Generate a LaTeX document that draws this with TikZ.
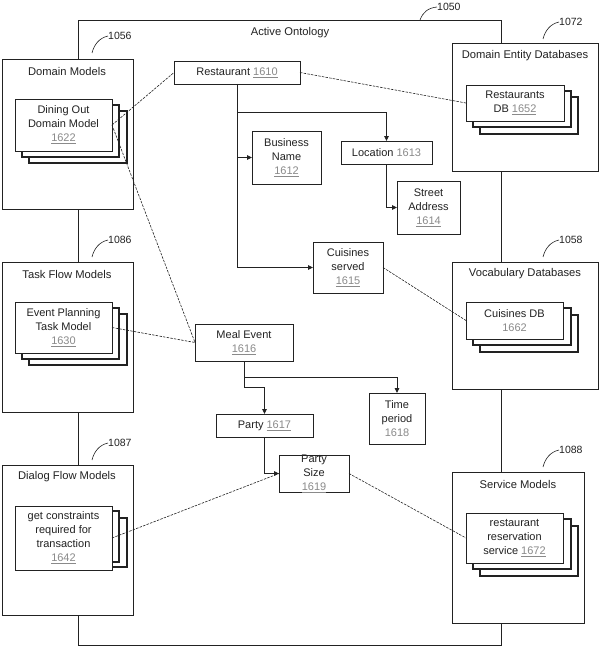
\documentclass[tikz,border=0pt]{standalone}
\usepackage{fontspec}
\setmainfont{Liberation Sans}
\usetikzlibrary{arrows.meta}
\definecolor{ink}{HTML}{222222}
\definecolor{numc}{HTML}{8A8A8A}
\newcommand\nm[1]{{\color{numc}\underline{#1}}}
\newcommand\nmp[1]{{\color{numc}#1}}
\tikzset{
 box/.style={draw=ink, line width=0.9pt, fill=white, inner sep=0pt, outer sep=0pt},
 backbox/.style={box, line width=1.1pt},
 frame/.style={draw=ink, line width=0.8pt, inner sep=0pt, outer sep=0pt},
 txt/.style={align=center, inner sep=0pt, font=\fontsize{11}{14}\selectfont, text=ink},
 ttl/.style={inner sep=0pt, font=\fontsize{11.2}{14}\selectfont, text=ink},
 arr/.style={draw=ink, line width=0.9pt, -{Triangle[length=5pt,width=4.5pt]}},
 link/.style={draw=ink, line width=0.6pt, dash pattern=on 2.5pt off 1.2pt},
 lead/.style={draw=ink, line width=0.6pt},
 reflbl/.style={inner sep=0pt, anchor=west, font=\fontsize{10.5}{12}\selectfont, text=ink},
}
% name x1 y1 x2 y2 text
\newcommand\bx[7][box]{%
 \node[#1, minimum width={(#5-#3)*1pt}, minimum height={(#6-#4)*1pt}] (#2) at ({(#3+#5)/2},{(#4+#6)/2}) {};
 \node[txt] (#2t) at (#2.center) {#7};}
\begin{document}
\begin{tikzpicture}[x=1pt,y=-1pt]
\useasboundingbox (0,0) rectangle (599,658);
% outer frame
\node[frame, minimum width=423pt, minimum height=625pt] (onto) at (289.5,332.5) {};
\node[ttl] (ontot) at (290,33) {Active Ontology};
\node[reflbl] (l1050) at (437,7) {1050};
\coordinate (c1050) at (420,20);
\draw[lead] (c1050) .. controls (423,12) and (428,8) .. (l1050.west);

% left column boxes
\bx{dm}{2}{59}{133}{209}{}
\node[ttl] (dmt2) at (67,71) {Domain Models};
\bx{tf}{2}{262}{133}{412}{}
\node[ttl] (tft2) at (67,274) {Task Flow Models};
\bx{df}{2}{465}{133}{615}{}
\node[ttl] (dft2) at (67,477) {Dialog Flow Models};

% right column boxes
\bx{de}{452}{43}{598}{171}{}
\node[ttl] (det2) at (525,56) {Domain Entity Databases};
\bx{vd}{452}{262}{598}{389}{}
\node[ttl] (vdt2) at (525,274) {Vocabulary Databases};
\bx{sm}{452}{472}{584}{623}{}
\node[ttl] (smt2) at (518,484) {Service Models};

% reference labels with leaders
\node[reflbl] (l1056) at (108,36) {1056};
\coordinate (c1056) at (92,53);
\draw[lead] (c1056) .. controls (94,45) and (99,38) .. (l1056.west);
\node[reflbl] (l1086) at (108,240) {1086};
\coordinate (c1086) at (92,257);
\draw[lead] (c1086) .. controls (94,249) and (99,242) .. (l1086.west);
\node[reflbl] (l1087) at (108,443) {1087};
\coordinate (c1087) at (92,460);
\draw[lead] (c1087) .. controls (94,452) and (99,445) .. (l1087.west);
\node[reflbl] (l1072) at (559,22) {1072};
\coordinate (c1072) at (543,39);
\draw[lead] (c1072) .. controls (545,31) and (550,24) .. (l1072.west);
\node[reflbl] (l1058) at (559,240) {1058};
\coordinate (c1058) at (543,257);
\draw[lead] (c1058) .. controls (545,249) and (550,242) .. (l1058.west);
\node[reflbl] (l1088) at (559,450) {1088};
\coordinate (c1088) at (543,467);
\draw[lead] (c1088) .. controls (545,459) and (550,452) .. (l1088.west);

% stacked model boxes
\bx[backbox]{dineb2}{29}{111}{127}{163}{}
\bx[backbox]{dineb1}{22}{105}{119}{157}{}
\bx{dine}{15}{99}{112}{151}{Dining Out\\Domain Model\\\nm{1622}}
\bx[backbox]{evtb2}{29}{314}{127}{365}{}
\bx[backbox]{evtb1}{22}{308}{119}{359}{}
\bx{evt}{15}{302}{112}{353}{Event Planning\\Task Model\\\nm{1630}}
\bx[backbox]{gcb2}{29}{518}{127}{567}{}
\bx[backbox]{gcb1}{22}{511}{119}{562}{}
\bx{gc}{15}{506}{112}{570}{get constraints\\required for\\transaction\\\nm{1642}}
\bx[backbox]{rdbb2}{480}{97}{578}{134}{}
\bx[backbox]{rdbb1}{473}{91}{571}{127}{}
\bx{rdb}{466}{85}{564}{121}{Restaurants\\DB \nm{1652}}
\bx[backbox]{cdbb2}{480}{315}{578}{352}{}
\bx[backbox]{cdbb1}{473}{308}{571}{345}{}
\bx{cdb}{466}{302}{563}{339}{Cuisines DB\\\nmp{1662}}
\bx[backbox]{svcb2}{480}{526}{578}{576}{}
\bx[backbox]{svcb1}{473}{519}{571}{569}{}
\bx{svc}{466}{513}{563}{563}{restaurant\\reservation\\service \nm{1672}}

% ontology concept boxes
\bx{rest}{174}{61}{300}{84}{Restaurant \nm{1610}}
\bx{bn}{252}{131}{321}{184}{Business\\Name\\\nm{1612}}
\bx{loc}{341}{141}{432}{164}{Location \nmp{1613}}
\bx{st}{397}{181}{460}{234}{Street\\Address\\\nm{1614}}
\bx{cuis}{313}{242}{383}{293}{Cuisines\\served\\\nm{1615}}
\bx{meal}{195}{324}{293}{361}{Meal Event\\\nm{1616}}
\bx{party}{216}{414}{313}{437}{Party \nm{1617}}
\bx{time}{369}{393}{425}{444}{Time\\period\\\nmp{1618}}
\bx{psize}{279}{455}{349}{492}{Party\\Size\\\nm{1619}}

% solid hierarchy connectors
\coordinate (j1) at (237,112);
\draw[arr] (rest.south) |- (cuis.west);
\draw[arr] (j1) -| (loc.north);
\draw[arr] (rest.south |- bn.west) -- (bn.west);
\draw[arr] (loc.south) |- (st.west);
\coordinate (j3) at (244,377);
\coordinate (j4) at (244,387);
\draw[arr] (meal.south) -- (j3) -| (time.north);
\draw[arr] (j3) -- (j4) -| (party.north);
\draw[arr] (party.south) |- (psize.west);

% dashed links
\draw[link] (dine.east) -- (rest.west);
\draw[link] (dine.east) -- (meal.west);
\draw[link] (rest.east) -- (rdb.west);
\draw[link] (evt.east) -- (meal.west);
\draw[link] (cuis.east) -- (cdb.west);
\draw[link] (gc.east) -- (psize.west);
\draw[link] (psize.east) -- (svc.west);
\end{tikzpicture}
\end{document}
